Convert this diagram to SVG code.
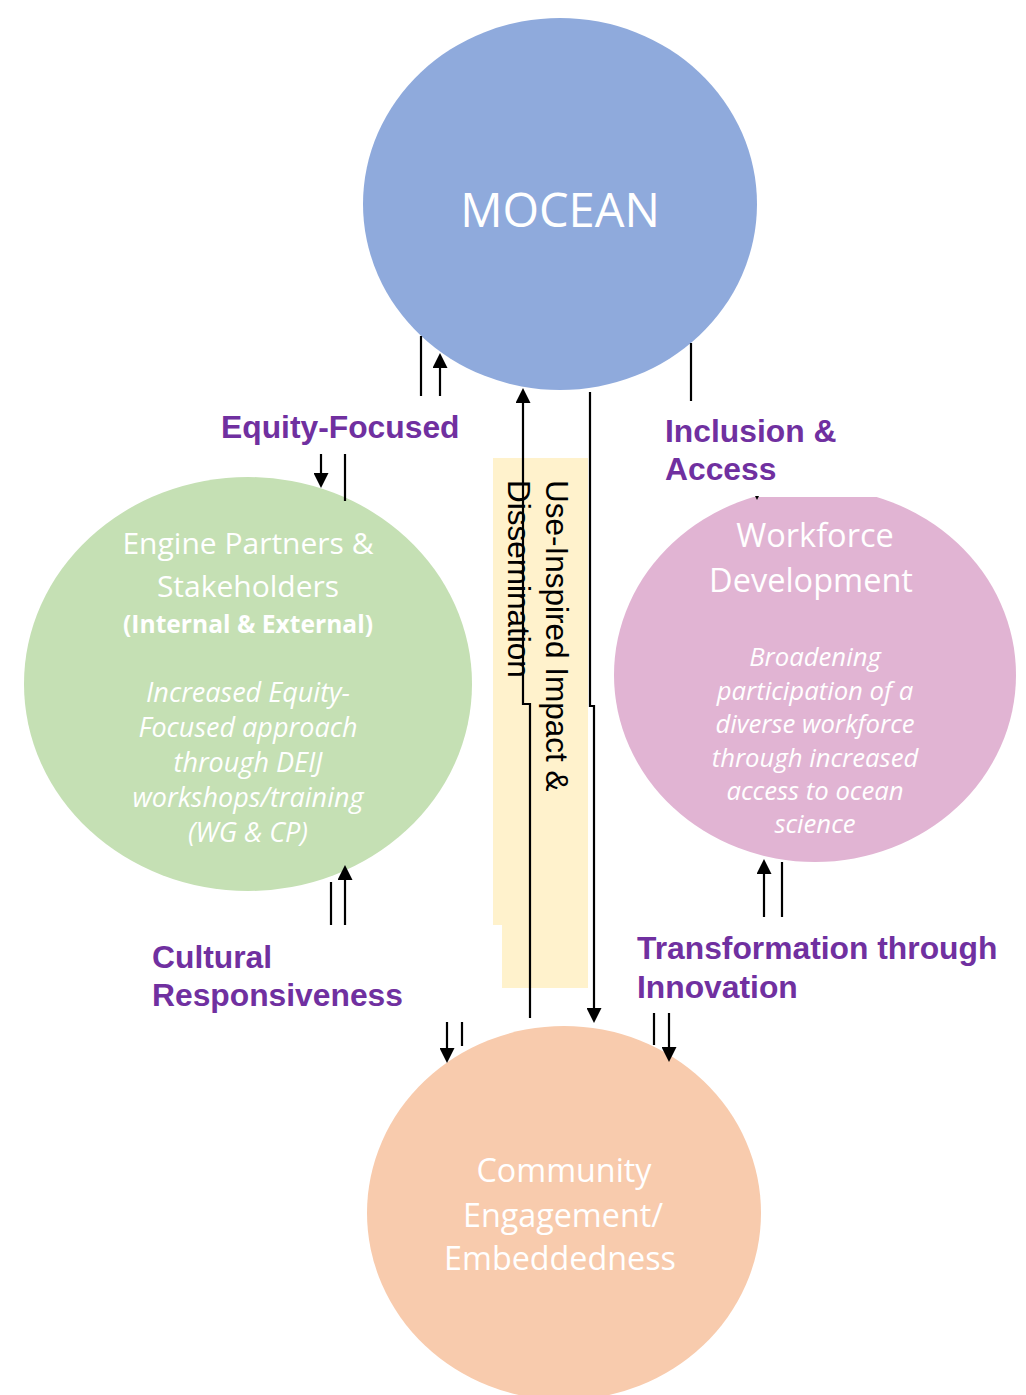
<svg xmlns="http://www.w3.org/2000/svg" width="1026" height="1395" viewBox="0 0 1026 1395">
  <style>
    .node-title { font-family: "Open Sans", "Liberation Sans", sans-serif; fill: #ffffff; text-anchor: middle; }
    .node-note { font-family: "Open Sans", "Liberation Sans", sans-serif; font-style: italic; fill: #ffffff; text-anchor: middle; }
    .label { font-family: "Liberation Sans", Arial, sans-serif; font-weight: bold; font-size: 31.8px; fill: #7030A0; }
    .band-text { font-family: "Liberation Sans", Arial, sans-serif; font-size: 31.5px; fill: #000000; }
    .wire { fill: none; stroke: #000000; stroke-width: 2.2; }
    .arrow { marker-end: url(#head); }
  </style>
  <defs>
    <marker id="head" viewBox="0 0 15 15" refX="1" refY="7.5" markerWidth="15" markerHeight="15" markerUnits="userSpaceOnUse" orient="auto">
      <path d="M0,0 L15,7.5 L0,15 Z" fill="#000000"/>
    </marker>
    <clipPath id="workforce-clip">
      <rect x="600" y="497" width="426" height="400"/>
    </clipPath>
  </defs>

  <rect width="1026" height="1395" fill="#ffffff"/>

  <!-- shaded band behind the vertical MOCEAN / community link -->
  <g id="impact-band">
    <path d="M493,458 H588 V988 H502 V925 H493 Z" fill="#FFF2CC"/>
  </g>

  <g id="mocean">
    <ellipse cx="560" cy="204" rx="197" ry="186" fill="#8FAADC"/>
    <text class="node-title" x="560" y="227" font-size="47">MOCEAN</text>
  </g>

  <g id="engine-partners">
    <ellipse cx="248" cy="684" rx="224" ry="207" fill="#C5E0B4"/>
    <text class="node-title" x="248" y="554" font-size="30">Engine Partners &amp;</text>
    <text class="node-title" x="248" y="597" font-size="30">Stakeholders</text>
    <text class="node-title" x="248" y="633" font-size="24.6" font-weight="bold">(Internal &amp; External)</text>
    <text class="node-note" x="248" y="702" font-size="27">Increased Equity-</text>
    <text class="node-note" x="248" y="737" font-size="27">Focused approach</text>
    <text class="node-note" x="248" y="772" font-size="27">through DEIJ</text>
    <text class="node-note" x="248" y="807" font-size="27">workshops/training</text>
    <text class="node-note" x="248" y="842" font-size="27">(WG &amp; CP)</text>
  </g>

  <g id="workforce">
    <ellipse cx="815" cy="675" rx="201" ry="187" fill="#E1B4D3" clip-path="url(#workforce-clip)"/>
    <text class="node-title" x="815" y="547" font-size="32.5">Workforce</text>
    <text class="node-title" x="811" y="592" font-size="32.5">Development</text>
    <text class="node-note" x="815" y="666" font-size="25.7">Broadening</text>
    <text class="node-note" x="815" y="700" font-size="25.7">participation of a</text>
    <text class="node-note" x="815" y="733" font-size="25.7">diverse workforce</text>
    <text class="node-note" x="815" y="767" font-size="25.7">through increased</text>
    <text class="node-note" x="815" y="800" font-size="25.7">access to ocean</text>
    <text class="node-note" x="815" y="833" font-size="25.7">science</text>
  </g>

  <g id="community">
    <ellipse cx="564" cy="1213" rx="197" ry="187" fill="#F8CBAD"/>
    <text class="node-title" x="564" y="1182" font-size="32.3">Community</text>
    <text class="node-title" x="563" y="1227" font-size="32.3">Engagement/</text>
    <text class="node-title" x="560" y="1270" font-size="32.3">Embeddedness</text>
  </g>

  <g id="connectors">
    <!-- MOCEAN <-> Engine Partners -->
    <path class="wire" d="M421,336 V396"/>
    <path class="wire arrow" d="M440,396 V367"/>
    <path class="wire arrow" d="M321,454 V474"/>
    <path class="wire" d="M345,454 V501"/>
    <!-- MOCEAN <-> Community (through the shaded band) -->
    <path class="wire arrow" d="M530,1018 V704 H523 V402"/>
    <path class="wire arrow" d="M590,392 V706 H594 V1009"/>
    <!-- MOCEAN -> Workforce -->
    <path class="wire" d="M691,343 V401"/>
    <path d="M755,496 L759,496 L757,500 Z" fill="#000000"/>
    <!-- Engine Partners <-> Community -->
    <path class="wire" d="M331,882 V925"/>
    <path class="wire arrow" d="M345,925 V879"/>
    <path class="wire arrow" d="M447,1022 V1049"/>
    <path class="wire" d="M462,1022 V1046"/>
    <!-- Workforce <-> Community -->
    <path class="wire" d="M654,1013 V1045"/>
    <path class="wire arrow" d="M669,1013 V1048"/>
    <path class="wire arrow" d="M764,917 V873"/>
    <path class="wire" d="M782,862 V917"/>
  </g>

  <g id="labels">
    <text class="label" x="221" y="438">Equity-Focused</text>
    <text class="label" x="665" y="442">Inclusion &amp;</text>
    <text class="label" x="665" y="480">Access</text>
    <text class="label" x="152" y="968">Cultural</text>
    <text class="label" x="152" y="1006">Responsiveness</text>
    <text class="label" x="637" y="959">Transformation through</text>
    <text class="label" x="637" y="998">Innovation</text>
  </g>

  <g id="band-label">
    <text class="band-text" transform="translate(546,480) rotate(90)">
      <tspan x="0" y="0">Use-Inspired Impact &amp;</tspan>
      <tspan x="0" y="38">Dissemination</tspan>
    </text>
  </g>
</svg>
